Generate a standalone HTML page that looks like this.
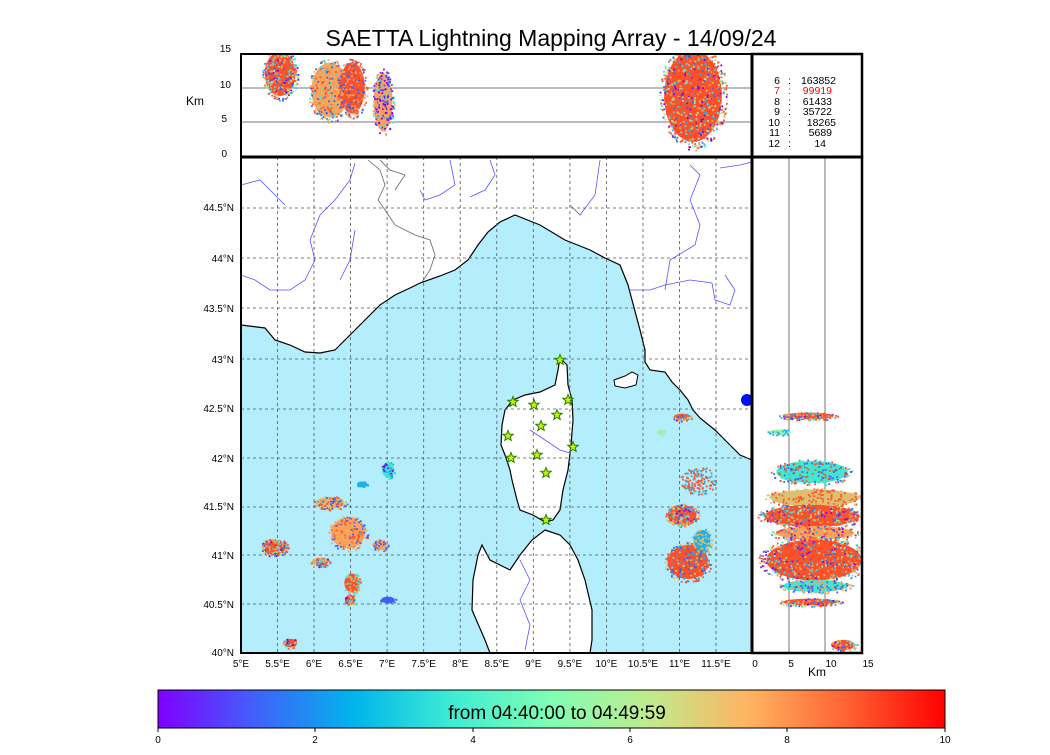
<!DOCTYPE html>
<html><head><meta charset="utf-8">
<style>
body{margin:0;background:#fff;width:1050px;height:750px;overflow:hidden;font-family:"Liberation Sans",sans-serif}
svg text{font-family:"Liberation Sans",sans-serif}
</style></head><body>
<svg id="s" width="1050" height="750" xmlns="http://www.w3.org/2000/svg">
<defs>
<linearGradient id="rb" x1="0" x2="1" y1="0" y2="0">
<stop offset="0" stop-color="#8000ff"/><stop offset=".125" stop-color="#4062fa"/><stop offset=".25" stop-color="#00b5eb"/><stop offset=".375" stop-color="#40ecd4"/><stop offset=".5" stop-color="#80feb3"/><stop offset=".625" stop-color="#c0eb8d"/><stop offset=".75" stop-color="#ffb462"/><stop offset=".875" stop-color="#ff6232"/><stop offset="1" stop-color="#ff0000"/>
</linearGradient>
<clipPath id="cm"><rect x="241" y="157" width="511" height="496"/></clipPath>
<clipPath id="ct"><rect x="241" y="54" width="511" height="103"/></clipPath>
<clipPath id="cr"><rect x="752" y="157" width="110" height="496"/></clipPath>
</defs>
<text x="551" y="46" font-size="23" text-anchor="middle">SAETTA Lightning Mapping Array - 14/09/24</text>
<g clip-path="url(#cm)">
<rect x="241" y="157" width="511" height="496" fill="#fff"/>
<path fill="#b4eefc" stroke="#000" stroke-width="1.2" d="M241,325 L265,328 275,340 290,345 305,352 320,353 335,350 350,335 365,320 380,305 395,295 410,288 420,283 440,276 455,270 468,260 478,245 488,232 500,222 515,215 540,225 565,240 590,250 605,258 620,265 628,285 632,300 640,330 645,350 645,362 650,370 665,372 672,382 680,390 688,400 693,410 700,418 715,430 728,443 740,455 752,460 L752,653 241,653Z"/>
<path fill="#fff" stroke="#000" stroke-width="1.2" d="M560,358 567,365 568,385 572,400 573,420 571,445 568,470 563,490 560,510 553,520 545,522 533,515 520,510 517,500 512,480 510,470 505,455 501,445 502,425 505,410 513,400 525,395 540,392 555,385 558,370Z"/>
<path fill="#fff" stroke="#000" stroke-width="1.2" d="M545,530 560,535 570,545 578,560 585,580 592,610 592,640 590,653 490,653 485,640 472,610 473,580 478,555 482,545 490,560 510,570 520,555 532,540Z"/>
<path fill="#fff" stroke="#000" stroke-width="1" d="M614,380 625,376 632,372 638,375 636,385 625,388 615,386Z"/>
<circle cx="747" cy="400" r="6" fill="#0010ff"/>
<g fill="none" stroke="#5555ff" stroke-width="0.8">
<path d="M241,185 260,180 270,190 285,205"/>
<path d="M355,163 350,180 335,200 320,215 310,240 315,260 305,280 290,290 270,290 255,280 241,275"/>
<path d="M355,230 350,260 340,280"/>
<path d="M450,160 455,185 440,195 425,200 420,190"/>
<path d="M490,160 495,175 485,190 470,197"/>
<path d="M600,160 595,195 580,215 570,205"/>
<path d="M690,165 700,175 690,200 700,225 695,245 670,260 665,290"/>
<path d="M720,168 740,165 752,162"/>
<path d="M628,290 650,290 665,285 690,280 712,283 715,300 730,305 735,290 725,275"/>
<path d="M530,430 545,440 560,450 570,453"/>
<path d="M520,560 530,580 520,600 530,625 525,650"/>
</g>
<g fill="none" stroke="#666" stroke-width="0.8">
<path d="M368,160 380,170 385,185 378,200 385,210 395,225 415,235 430,240 435,255 430,270 422,282"/>
<path d="M380,160 390,170 405,175 395,190"/>
</g>
<g stroke="#555" stroke-width="0.8" stroke-dasharray="3,3">
<line x1="277.5" y1="157" x2="277.5" y2="653"/><line x1="314" y1="157" x2="314" y2="653"/><line x1="350.6" y1="157" x2="350.6" y2="653"/><line x1="387.1" y1="157" x2="387.1" y2="653"/><line x1="423.7" y1="157" x2="423.7" y2="653"/><line x1="460.2" y1="157" x2="460.2" y2="653"/><line x1="496.8" y1="157" x2="496.8" y2="653"/><line x1="533.3" y1="157" x2="533.3" y2="653"/><line x1="569.9" y1="157" x2="569.9" y2="653"/><line x1="606.4" y1="157" x2="606.4" y2="653"/><line x1="643" y1="157" x2="643" y2="653"/><line x1="679.5" y1="157" x2="679.5" y2="653"/><line x1="716" y1="157" x2="716" y2="653"/>
<line x1="241" y1="208" x2="752" y2="208"/><line x1="241" y1="258" x2="752" y2="258"/><line x1="241" y1="308" x2="752" y2="308"/><line x1="241" y1="359" x2="752" y2="359"/><line x1="241" y1="409" x2="752" y2="409"/><line x1="241" y1="458" x2="752" y2="458"/><line x1="241" y1="507" x2="752" y2="507"/><line x1="241" y1="555" x2="752" y2="555"/><line x1="241" y1="604" x2="752" y2="604"/>
</g>
<g id="mapc"></g>
<g id="stars" fill="#cdf000" stroke="#208000" stroke-width="1"></g>
</g>
<rect x="241" y="157" width="511" height="496" fill="none" stroke="#000" stroke-width="2"/>
<rect x="241" y="54" width="511" height="103" fill="#fff"/>
<line x1="241" y1="88" x2="752" y2="88" stroke="#777"/><line x1="241" y1="122" x2="752" y2="122" stroke="#777"/>
<g id="topc" clip-path="url(#ct)"></g>
<rect x="241" y="54" width="511" height="103" fill="none" stroke="#000" stroke-width="2"/>
<line x1="789" y1="157" x2="789" y2="653" stroke="#777"/><line x1="825" y1="157" x2="825" y2="653" stroke="#777"/>
<g id="rc" clip-path="url(#cr)"></g>
<rect x="752" y="157" width="110" height="496" fill="none" stroke="#000" stroke-width="2.5"/>
<rect x="752" y="54" width="110" height="103" fill="none" stroke="#000" stroke-width="2.5"/>
<line x1="241" y1="157" x2="862" y2="157" stroke="#000" stroke-width="3"/>
<line x1="752" y1="54" x2="752" y2="653" stroke="#000" stroke-width="3"/>
<g font-size="10.5" text-anchor="end">
<text x="780" y="84">6</text><text x="780" y="94" fill="red">7</text><text x="780" y="105">8</text><text x="780" y="115">9</text><text x="780" y="126">10</text><text x="780" y="136">11</text><text x="780" y="147">12</text>
<text x="791" y="84">:</text><text x="791" y="94" fill="red">:</text><text x="791" y="105">:</text><text x="791" y="115">:</text><text x="791" y="126">:</text><text x="791" y="136">:</text><text x="791" y="147">:</text>
<text x="836" y="84">163852</text><text x="832" y="94" fill="red">99919</text><text x="832" y="105">61433</text><text x="832" y="115">35722</text><text x="836" y="126">18265</text><text x="832" y="136">5689</text><text x="826" y="147">14</text>
</g>
<g font-size="10" text-anchor="end">
<text x="231" y="52">15</text><text x="231" y="88">10</text><text x="227" y="122">5</text><text x="227" y="157">0</text>
<text x="234" y="211">44.5°N</text><text x="234" y="262">44°N</text><text x="234" y="312">43.5°N</text><text x="234" y="363">43°N</text><text x="234" y="412">42.5°N</text><text x="234" y="462">42°N</text><text x="234" y="510">41.5°N</text><text x="234" y="559">41°N</text><text x="234" y="608">40.5°N</text><text x="234" y="656">40°N</text>
</g>
<text x="186" y="105" font-size="12">Km</text>
<g font-size="10" text-anchor="middle">
<text x="241" y="667">5°E</text><text x="277.5" y="667">5.5°E</text><text x="314" y="667">6°E</text><text x="350.6" y="667">6.5°E</text><text x="387.1" y="667">7°E</text><text x="423.7" y="667">7.5°E</text><text x="460.2" y="667">8°E</text><text x="496.8" y="667">8.5°E</text><text x="533.3" y="667">9°E</text><text x="569.9" y="667">9.5°E</text><text x="606.4" y="667">10°E</text><text x="643" y="667">10.5°E</text><text x="679.5" y="667">11°E</text><text x="716" y="667">11.5°E</text>
<text x="755" y="667">0</text><text x="791" y="667">5</text><text x="831" y="667">10</text><text x="868" y="667">15</text>
</g>
<text x="817" y="676" font-size="12" text-anchor="middle">Km</text>
<rect x="158" y="690" width="787" height="38" fill="url(#rb)" stroke="#000" stroke-width="1"/>
<text x="557" y="719" font-size="19" text-anchor="middle">from 04:40:00 to 04:49:59</text>
<g font-size="10" text-anchor="middle">
<line x1="158" y1="728" x2="158" y2="732" stroke="#000"/><line x1="315" y1="728" x2="315" y2="732" stroke="#000"/><line x1="473" y1="728" x2="473" y2="732" stroke="#000"/><line x1="630" y1="728" x2="630" y2="732" stroke="#000"/><line x1="787" y1="728" x2="787" y2="732" stroke="#000"/><line x1="945" y1="728" x2="945" y2="732" stroke="#000"/>
<text x="158" y="743">0</text><text x="315" y="743">2</text><text x="473" y="743">4</text><text x="630" y="743">6</text><text x="787" y="743">8</text><text x="945" y="743">10</text>
</g>
</svg>
<script>
var seed=7;function r(){seed=(seed*16807)%2147483647;return (seed-1)/2147483646;}
var NS="http://www.w3.org/2000/svg";
var mix=["#ff5028","#ff5028","#ff5028","#ffa058","#dcc070","#4060f0","#40e8d0","#9ef0a8","#20b0e8","#8000ff"];
function cl(id,cx,cy,rx,ry,n,core,cols,sz){
 var g=document.getElementById(id);
 if(core){var e=document.createElementNS(NS,"ellipse");e.setAttribute("cx",cx);e.setAttribute("cy",cy);e.setAttribute("rx",rx*0.85);e.setAttribute("ry",ry*0.85);e.setAttribute("fill",core);g.appendChild(e);}
 cols=cols||mix;sz=sz||1.8;
 for(var i=0;i<n;i++){var a=r()*6.283,d=Math.sqrt(r());var c=document.createElementNS(NS,"rect");
 c.setAttribute("x",(cx+Math.cos(a)*d*rx).toFixed(1));c.setAttribute("y",(cy+Math.sin(a)*d*ry).toFixed(1));
 c.setAttribute("width",sz);c.setAttribute("height",sz);c.setAttribute("fill",cols[Math.floor(r()*cols.length)]);g.appendChild(c);}
}
cl("mapc",274,547,14,9,150,"#ff5028");
cl("mapc",348,533,20,18,200,"#ffa058",["#ffa058","#ffa058","#ff5028","#4060f0","#dcc070"]);
cl("mapc",330,503,17,7,100,"#dcc070",["#dcc070","#ff5028","#4060f0"]);
cl("mapc",320,562,10,5,60,"#ffa058");
cl("mapc",352,583,9,11,60,"#ff5028",["#ff5028","#40e8d0","#ffa058"]);
cl("mapc",350,600,6,6,40,"#ff5028");
cl("mapc",380,545,8,6,40,"#ffa058",["#4060f0","#ffa058"]);
cl("mapc",388,600,8,4,30,"#4060f0",["#4060f0"]);
cl("mapc",388,470,7,9,50,"#40e8d0",["#40e8d0","#8000ff","#20b0e8"]);
cl("mapc",362,484,6,3,25,"#20b0e8",["#20b0e8"]);
cl("mapc",290,643,8,5,30,"#ff5028");
cl("mapc",682,515,17,12,180,"#ff5028");
cl("mapc",688,562,24,20,260,"#ff5028",["#ff5028","#ff5028","#dcc070","#20b0e8","#4060f0"]);
cl("mapc",698,480,18,14,140,null,["#ff5028","#20b0e8","#ff5028"]);
cl("mapc",702,540,10,12,70,"#20b0e8",["#20b0e8","#dcc070"]);
cl("mapc",682,417,10,4,40,"#ff5028");
cl("mapc",661,432,4,3,12,"#9ef0a8",["#9ef0a8"]);
var st=[[560,360],[513,402],[534,405],[568,400],[557,415],[541,426],[508,436],[573,447],[537,455],[511,458],[546,473],[546,520]];
var sg=document.getElementById("stars");
st.forEach(function(p){var pts=[];for(var k=0;k<10;k++){var a=-Math.PI/2+k*Math.PI/5,R=k%2?2.3:5.5;pts.push((p[0]+R*Math.cos(a)).toFixed(1)+","+(p[1]+R*Math.sin(a)).toFixed(1));}
var e=document.createElementNS(NS,"polygon");e.setAttribute("points",pts.join(" "));sg.appendChild(e);});
cl("topc",280,74,18,26,300,"#ff5028");
cl("topc",330,90,22,32,300,"#ffa058",["#ffa058","#ff5028","#dcc070","#4060f0","#40e8d0"]);
cl("topc",352,88,15,30,260,"#ff5028",["#ff5028","#ffa058","#4060f0"]);
cl("topc",383,102,11,34,200,"#ffa058",["#40e8d0","#4060f0","#8000ff","#ffa058"]);
cl("topc",693,96,34,54,700,"#ff5028");
cl("rc",808,416,30,4,120,"#ff5028");
cl("rc",780,432,13,3,40,"#9ef0a8",["#9ef0a8","#20b0e8"]);
cl("rc",812,472,42,13,220,"#40e8d0",["#40e8d0","#ff5028","#4060f0"]);
cl("rc",815,498,52,10,240,"#dcc070",["#dcc070","#ff5028"]);
cl("rc",812,516,56,13,320,"#ff5028");
cl("rc",815,533,46,8,160,"#ffa058");
cl("rc",814,560,56,24,500,"#ff5028");
cl("rc",815,586,38,7,160,"#40e8d0",["#40e8d0","#ffa058","#4060f0"]);
cl("rc",810,602,32,4,110,"#ff5028");
cl("rc",843,645,14,6,60,"#ff5028");
</script>
</body></html>
